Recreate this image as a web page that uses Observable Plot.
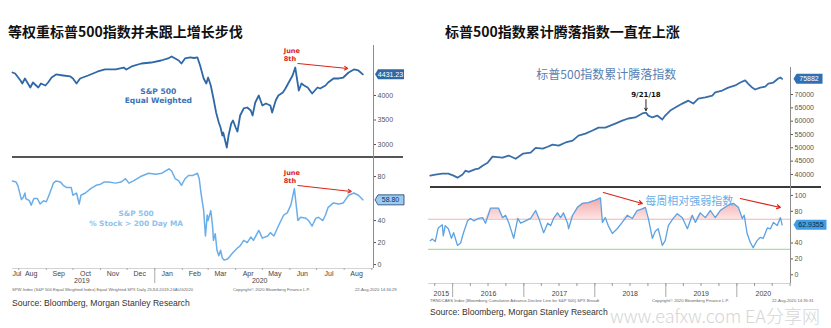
<!DOCTYPE html>
<html><head><meta charset="utf-8">
<script src="https://cdn.jsdelivr.net/npm/d3@7"></script>
<script src="https://cdn.jsdelivr.net/npm/@observablehq/plot@0.6"></script>
<style>
body{margin:0;background:#fff;}
#root{position:relative;width:831px;height:328px;overflow:hidden;background:#fff;font-family:"Liberation Sans",Arial,sans-serif;}
.title{position:absolute;top:24px;line-height:14px;font-family:"Noto Sans CJK SC",sans-serif;font-weight:700;font-size:14px;color:#111;white-space:nowrap;}
.sep{position:absolute;height:2px;background:#555;}
.src{position:absolute;font-size:8.6px;line-height:10px;color:#333;white-space:nowrap;}
.wm{position:absolute;font-size:18px;line-height:20px;color:#d6d6d6;white-space:nowrap;font-family:"Noto Sans CJK SC",sans-serif;font-weight:300;}
#root svg.fp{position:absolute;left:0;top:0;pointer-events:none;}
</style></head><body>
<svg width="0" height="0" style="position:absolute">
  <defs>
    <linearGradient id="pinkGrad" gradientUnits="userSpaceOnUse" x1="0" y1="192" x2="0" y2="219">
      <stop offset="0" stop-color="#f08a8d"/>
      <stop offset="1" stop-color="#fde2e2"/>
    </linearGradient>
  </defs>
</svg>
<div id="root">
  <div class="title" style="left:8px">等权重标普500指数并未跟上增长步伐</div>
  <div class="title" style="left:445px">标普500指数累计腾落指数一直在上涨</div>
  <div class="sep" style="left:12px;top:156px;width:391px"></div>
  <div class="sep" style="left:430px;top:186px;width:391px;background:#3a3a3a"></div>
  <div class="src" style="left:12px;top:298px">Source: Bloomberg, Morgan Stanley Research</div>
  <div class="src" style="left:430px;top:307px">Source: Bloomberg, Morgan Stanley Research</div>
  <svg class="fp" width="831" height="328" style="position:absolute;left:0;top:0">
    <g font-family="Liberation Sans, Arial, sans-serif" font-size="4.2" fill="#666">
      <text x="12" y="291">SPW Index (S&amp;P 500 Equal Weighted Index) Equal Weighted SPX  Daily 25JUL2019-24AUG2020</text>
      <text x="233" y="291">Copyright© 2020 Bloomberg Finance L.P.</text>
      <text x="355" y="291">22-Aug-2020 14:34:29</text>
      <text x="430" y="302">TRNDCAES Index (Bloomberg Cumulative Advance-Decline Line for S&amp;P 500) SPX Breadt</text>
      <text x="652" y="302">Copyright© 2020 Bloomberg Finance L.P.</text>
      <text x="772" y="302">22-Aug-2020 14:35:31</text>
    </g>
  </svg>
  <div class="wm" style="left:610px;top:305px">www.eafxw.com</div>
  <div class="wm" style="left:745px;top:305px">EA分享网</div>
</div>
<script>
// ---------------- DATA ----------------
// Left top: S&P 500 Equal Weighted index
const ewDates = ["2019-07-25","2019-07-28","2019-08-03","2019-08-05","2019-08-08","2019-08-14","2019-08-17","2019-08-23","2019-08-26","2019-08-31","2019-09-03","2019-09-07","2019-09-12","2019-09-20","2019-09-28","2019-10-01","2019-10-05","2019-10-09","2019-10-18","2019-10-29","2019-11-06","2019-11-18","2019-11-27","2019-11-30","2019-12-06","2019-12-17","2019-12-28","2020-01-08","2020-01-16","2020-01-20","2020-01-24","2020-01-28","2020-01-31","2020-02-04","2020-02-10","2020-02-14","2020-02-18","2020-02-21","2020-02-25","2020-02-28","2020-03-01","2020-03-04","2020-03-07","2020-03-10","2020-03-13","2020-03-15","2020-03-17","2020-03-18","2020-03-22","2020-03-24","2020-03-27","2020-03-29","2020-04-01","2020-04-03","2020-04-06","2020-04-10","2020-04-14","2020-04-18","2020-04-20","2020-04-23","2020-04-27","2020-05-01","2020-05-05","2020-05-10","2020-05-12","2020-05-16","2020-05-19","2020-05-24","2020-05-27","2020-05-30","2020-06-04","2020-06-07","2020-06-11","2020-06-14","2020-06-17","2020-06-21","2020-06-26","2020-07-02","2020-07-05","2020-07-11","2020-07-14","2020-07-20","2020-07-26","2020-07-31","2020-08-06","2020-08-12","2020-08-17","2020-08-22"];
const ewValues = [4469,4449,4306,4245,4347,4163,4265,4163,4245,4204,4265,4367,4429,4408,4388,4347,4245,4347,4408,4490,4531,4531,4571,4531,4592,4653,4673,4714,4755,4796,4755,4714,4653,4755,4776,4765,4776,4612,4347,4245,4367,4204,3939,3653,3449,3347,3184,3245,2939,3184,3429,3490,3347,3265,3592,3735,3755,3694,3592,3857,4000,3796,3837,3796,3653,3898,4000,4061,4143,4245,4408,4571,4102,4245,4204,4163,4041,4163,4143,4204,4265,4347,4347,4367,4469,4531,4510,4431.23];
const ewTicks = [3000,3500,4000];

// Left bottom: % of S&P 500 stocks above 200-day MA
const maDates = ["2019-07-25","2019-07-29","2019-07-31","2019-08-04","2019-08-06","2019-08-08","2019-08-09","2019-08-13","2019-08-15","2019-08-18","2019-08-22","2019-08-25","2019-08-29","2019-09-01","2019-09-03","2019-09-05","2019-09-09","2019-09-12","2019-09-17","2019-09-20","2019-09-24","2019-09-29","2019-10-01","2019-10-05","2019-10-08","2019-10-10","2019-10-15","2019-10-21","2019-10-27","2019-11-01","2019-11-05","2019-11-10","2019-11-18","2019-11-24","2019-11-29","2019-12-03","2019-12-08","2019-12-16","2019-12-25","2020-01-02","2020-01-09","2020-01-17","2020-01-20","2020-01-24","2020-01-28","2020-01-31","2020-02-04","2020-02-08","2020-02-13","2020-02-18","2020-02-20","2020-02-22","2020-02-25","2020-02-27","2020-02-29","2020-03-01","2020-03-04","2020-03-06","2020-03-07","2020-03-09","2020-03-11","2020-03-13","2020-03-15","2020-03-17","2020-03-19","2020-03-23","2020-03-26","2020-03-29","2020-04-03","2020-04-06","2020-04-10","2020-04-14","2020-04-18","2020-04-21","2020-04-27","2020-05-01","2020-05-07","2020-05-10","2020-05-14","2020-05-19","2020-05-25","2020-05-29","2020-06-02","2020-06-06","2020-06-10","2020-06-13","2020-06-19","2020-06-22","2020-06-26","2020-06-30","2020-07-03","2020-07-08","2020-07-11","2020-07-14","2020-07-20","2020-07-26","2020-07-31","2020-08-06","2020-08-12","2020-08-17","2020-08-22"];
const maValues = [76,75,72,59,61,65,60,58,54,60,60,55,58,57,61,65,74,76,75,72,70,70,63,65,55,63,65,69,72,73,75,75,74,75,78,74,76,80,83,82,83,87,85,78,76,72,78,81,81,83,78,65,49,26,45,40,49,35,22,28,13,8,13,6,4,5,8,11,15,17,22,20,25,22,31,24,26,29,26,35,45,47,54,69,40,43,42,40,35,42,43,40,45,52,56,55,56,63,65,63,58.8];
const maTicks = [0,20,40,80];
const monthLabelDates = ["2019-07-30","2019-08-15","2019-09-15","2019-10-15","2019-11-15","2019-12-15","2020-01-15","2020-02-15","2020-03-15","2020-04-15","2020-05-15","2020-06-15","2020-07-15","2020-08-15"];
const monthLabels = ["Jul","Aug","Sep","Oct","Nov","Dec","Jan","Feb","Mar","Apr","May","Jun","Jul","Aug"];
const leftYearDates = ["2019-10-11","2020-04-28"];
const leftYearLabels = ["2019","2020"];

// Right top: cumulative advance-decline line
const adDates = ["2015-09-08","2015-10-04","2015-11-09","2015-12-10","2016-01-06","2016-01-26","2016-02-21","2016-03-07","2016-03-23","2016-04-28","2016-05-14","2016-06-03","2016-06-29","2016-07-24","2016-09-14","2016-10-15","2016-11-20","2016-12-27","2017-02-05","2017-03-03","2017-04-08","2017-05-04","2017-05-29","2017-06-29","2017-08-04","2017-09-09","2017-10-09","2017-11-14","2017-12-20","2018-01-20","2018-02-24","2018-03-21","2018-04-16","2018-05-22","2018-06-22","2018-07-28","2018-09-02","2018-09-21","2018-10-03","2018-10-24","2018-11-18","2018-12-14","2018-12-29","2019-01-24","2019-02-19","2019-03-27","2019-04-27","2019-05-22","2019-06-17","2019-07-23","2019-08-28","2019-09-12","2019-10-18","2019-11-18","2019-12-24","2020-01-19","2020-02-13","2020-02-28","2020-03-20","2020-04-04","2020-04-30","2020-05-26","2020-06-11","2020-07-07","2020-08-01","2020-08-12","2020-08-21"];
const adValues = [39550,39900,40300,40300,39550,38800,40000,41400,41000,42000,42200,43300,44400,46700,46300,47100,45900,47800,48200,50000,49700,50400,51200,50800,52000,52700,54600,55300,56500,57600,57600,58300,59100,60200,61000,61400,62900,63200,62100,61400,62100,60600,62100,64000,65100,66600,67700,66600,68500,68900,69600,70800,71500,72600,73400,74500,75300,74100,72600,71900,72600,73000,74100,74500,76000,76400,75882];
const adTicks = [40000,45000,50000,55000,60000,65000,70000];

// Right bottom: weekly RSI of the A/D line
const rsiDates = ["2015-09-08","2015-09-18","2015-10-04","2015-10-19","2015-11-09","2015-11-14","2015-11-24","2015-12-10","2015-12-26","2016-01-06","2016-01-26","2016-02-11","2016-02-26","2016-03-18","2016-04-02","2016-04-18","2016-05-14","2016-06-03","2016-06-18","2016-07-14","2016-08-09","2016-08-24","2016-09-14","2016-09-29","2016-10-15","2016-11-10","2016-12-01","2016-12-16","2017-01-10","2017-02-05","2017-03-03","2017-03-18","2017-04-13","2017-05-04","2017-05-19","2017-06-03","2017-06-23","2017-07-09","2017-07-24","2017-08-14","2017-08-19","2017-09-09","2017-10-04","2017-10-30","2017-11-29","2018-01-04","2018-01-30","2018-02-09","2018-02-24","2018-03-11","2018-04-01","2018-04-26","2018-05-22","2018-06-17","2018-07-13","2018-08-07","2018-09-02","2018-09-18","2018-10-03","2018-10-24","2018-11-08","2018-11-23","2018-12-14","2018-12-29","2019-01-14","2019-02-08","2019-03-01","2019-03-27","2019-04-22","2019-05-17","2019-06-02","2019-06-27","2019-07-23","2019-08-18","2019-09-12","2019-10-08","2019-11-13","2019-12-14","2020-01-09","2020-01-29","2020-02-08","2020-02-23","2020-03-10","2020-03-25","2020-04-14","2020-04-30","2020-05-16","2020-06-06","2020-06-22","2020-07-07","2020-07-27","2020-08-12","2020-08-21"];
const rsiValues = [43,45,42,59,63,49,62,58,46,53,37,40,53,68,71,68,71,72,65,84,84,84,72,75,66,46,71,65,68,71,81,72,53,65,62,71,78,72,78,65,58,75,85,90,91,94,97,66,72,62,52,58,66,75,71,81,83,85,71,46,55,58,37,43,62,71,77,72,58,75,66,78,72,81,72,81,87,90,85,71,75,52,41,34,43,47,46,59,58,66,62,72,62.9355];
const rsiTicks = [0,20,40,80,100];
const rsiBands = [70, 32];
const rightYearLabelDates = ["2015-11-04","2016-07-04","2017-07-03","2018-07-02","2019-07-02","2020-05-16"];
const rightYearLabels = ["2015","2016","2017","2018","2019","2020"];

// Annotations (data coordinates)
const ewNote = [{date:"2020-01-05", v:3990, text:"S&P 500\nEqual Weighted"}];
const ewJune = [{date:"2020-05-25", v:4837, text:"June\n8th"}];
const ewArrow = [{d1:"2020-06-10", v1:4653, d2:"2020-08-05", v2:4551}];
const maNote = [{date:"2019-12-11", v:42.7, text:"S&P 500\n% Stock > 200 Day MA"}];
const maJune = [{date:"2020-05-25", v:80, text:"June\n8th"}];
const maArrow = [{d1:"2020-06-10", v1:71.8, d2:"2020-08-09", v2:66.4}];
const adNote = [{date:"2018-03-01", v:77140, text:"标普500指数累计腾落指数"}];
const adMark = [{date:"2018-09-21", v:70000, v1:68100, v2:64000, text:"9/21/18"}];
const rsiNote = [{date:"2019-05-02", v:92.4, text:"每周相对强弱指数"}];
const rsiArrows = [{d1:"2018-02-14", v1:103.7, d2:"2018-09-02", v2:89.8},{d1:"2020-01-19", v1:96.1, d2:"2020-08-12", v2:84.8}];

// ---------------- BUILD ----------------
const D = s => new Date(s + "T00:00:00Z");
const toRows = (ds, vs) => ds.map((d, i) => ({date: D(d), v: vs[i]}));
const ew = toRows(ewDates, ewValues);
const ma = toRows(maDates, maValues);
const ad = toRows(adDates, adValues);
const rsi = toRows(rsiDates, rsiValues);
const fixD = arr => arr.map(o => { const r = {...o}; for (const k of ["date","d1","d2"]) if (r[k]) r[k] = D(r[k]); return r; });

const leftX = [D("2019-07-25"), D("2020-09-03")];
const rightX = [D("2015-08-30"), D("2020-10-03")];

function tag(w, h) {
  return {draw(ctx) {
    const x0 = -w / 2, x1 = w / 2, y0 = -h / 2, y1 = h / 2, p = 3;
    ctx.moveTo(x0, 0); ctx.lineTo(x0 + p, y0); ctx.lineTo(x1, y0); ctx.lineTo(x1, y1); ctx.lineTo(x0 + p, y1); ctx.closePath();
  }};
}
function valueTag(rows, fmt, dx, w, fill, stroke, textFill) {
  const last = [rows[rows.length - 1]];
  return [
    Plot.dot(last, {y: "v", frameAnchor: "right", dx, symbol: tag(w, 10), r: 5, fill, stroke, strokeWidth: stroke === "none" ? 0 : 0.8}),
    Plot.text(last, {y: "v", frameAnchor: "right", textAnchor: "middle", dx: dx + 1, text: d => fmt(d.v), fill: textFill, fontSize: 7, fontFamily: "Liberation Sans, Arial, sans-serif"})
  ];
}

const root = document.getElementById("root");
const baseStyle = {position: "absolute", left: "0px", top: "0px", background: "transparent", overflow: "visible", fontFamily: "'Liberation Sans', Arial, sans-serif", fontSize: "7px"};
function P(opts) {
  const svg = Plot.plot({width: 831, height: 328, ...opts, style: baseStyle});
  root.appendChild(svg);
}
const ann = {fontFamily: "DejaVu Sans, sans-serif", fontWeight: "bold"};

// Left top
P({
  marginLeft: 12, marginRight: 458, marginTop: 45, marginBottom: 171,
  x: {type: "utc", domain: leftX, axis: null},
  y: {domain: [2735, 5020]},
  marks: [
    Plot.ruleX([leftX[1]], {stroke: "#8c8c8c", strokeWidth: 1}),
    Plot.axisY({anchor: "right", ticks: ewTicks, tickFormat: d => String(d), tickSize: 2, tickPadding: 2, color: "#555"}),
    Plot.line(ew, {x: "date", y: "v", stroke: "#2f68a6", strokeWidth: 1.8}),
    Plot.text(fixD(ewNote), {x: "date", y: "v", text: "text", fill: "#3d72b4", fontSize: 7.6, lineHeight: 1.2, ...ann}),
    Plot.text(fixD(ewJune), {x: "date", y: "v", text: "text", fill: "#d9261c", fontSize: 6.6, lineHeight: 1.2, textAnchor: "start", ...ann}),
    Plot.arrow(fixD(ewArrow), {x1: "d1", y1: "v1", x2: "d2", y2: "v2", stroke: "#d9261c", strokeWidth: 1.1, headLength: 5}),
    ...valueTag(ew, v => v.toFixed(2), 16, 29, "#2f68a6", "none", "#fff")
  ]
});

// Left bottom
P({
  marginLeft: 12, marginRight: 458, marginTop: 157, marginBottom: 60,
  x: {type: "utc", domain: leftX},
  y: {domain: [-3.6, 97.3]},
  marks: [
    Plot.ruleX([leftX[1]], {stroke: "#8c8c8c", strokeWidth: 1}),
    Plot.ruleY([-3.6], {stroke: "#c8c8c8", strokeWidth: 0.8}),
    Plot.axisY({anchor: "right", ticks: maTicks, tickFormat: d => String(d), tickSize: 2, tickPadding: 2, color: "#555"}),
    Plot.axisX({ticks: d3.utcMonths(leftX[0], leftX[1]), tickSize: 2, tickFormat: () => "", color: "#aaa"}),
    Plot.axisX({ticks: [D("2020-01-01")], tickSize: 15, tickFormat: () => "", color: "#aaa"}),
    Plot.text(monthLabelDates.map((d, i) => ({date: D(d), label: monthLabels[i]})), {x: "date", text: "label", frameAnchor: "bottom", dy: 7, fill: "#444", fontSize: 7}),
    Plot.text(leftYearDates.map((d, i) => ({date: D(d), label: leftYearLabels[i]})), {x: "date", text: "label", frameAnchor: "bottom", dy: 14, fill: "#444", fontSize: 7}),
    Plot.line(ma, {x: "date", y: "v", stroke: "#6aaee9", strokeWidth: 1.5}),
    Plot.text(fixD(maNote), {x: "date", y: "v", text: "text", fill: "#8ec3ef", fontSize: 7.4, lineHeight: 1.35, ...ann}),
    Plot.text(fixD(maJune), {x: "date", y: "v", text: "text", fill: "#d9261c", fontSize: 6.6, lineHeight: 1.2, textAnchor: "start", ...ann}),
    Plot.arrow(fixD(maArrow), {x1: "d1", y1: "v1", x2: "d2", y2: "v2", stroke: "#d9261c", strokeWidth: 1.1, headLength: 5}),
    ...valueTag(ma, v => v.toFixed(2), 16, 29, "#9ccbf2", "#1b3d6b", "#10315a")
  ]
});

// Right top
P({
  marginLeft: 428, marginRight: 41, marginTop: 67, marginBottom: 141,
  x: {type: "utc", domain: rightX, axis: null},
  y: {domain: [35100, 80150]},
  marks: [
    Plot.ruleX([rightX[1]], {stroke: "#8c8c8c", strokeWidth: 1}),
    Plot.axisY({anchor: "right", ticks: adTicks, tickFormat: d => String(d), tickSize: 2, tickPadding: 2, color: "#555"}),
    Plot.line(ad, {x: "date", y: "v", stroke: "#3a6ea8", strokeWidth: 1.8}),
    Plot.text(fixD(adNote), {x: "date", y: "v", text: "text", fill: "#5a7fb2", fontSize: 12, fontFamily: "Noto Sans CJK SC, sans-serif"}),
    Plot.text(fixD(adMark), {x: "date", y: "v", text: "text", fill: "#111", fontSize: 7, ...ann}),
    Plot.arrow(fixD(adMark), {x1: "date", y1: "v1", x2: "date", y2: "v2", stroke: "#222", strokeWidth: 1, headLength: 4}),
    ...valueTag(ad, v => String(Math.round(v)), 17.5, 29, "#2f6fb4", "none", "#fff")
  ]
});

// Right bottom
P({
  marginLeft: 428, marginRight: 41, marginTop: 187, marginBottom: 45,
  x: {type: "utc", domain: rightX},
  y: {domain: [-11, 110]},
  marks: [
    Plot.areaY(rsi, {x: "date", y1: () => rsiBands[0], y2: d => Math.max(d.v, rsiBands[0]), fill: "url(#pinkGrad)", fillOpacity: 0.9}),
    Plot.ruleY([rsiBands[0]], {stroke: "#f2b3b3", strokeWidth: 1.2}),
    Plot.ruleY([rsiBands[1]], {stroke: "#a6df9f", strokeWidth: 1.2}),
    Plot.ruleX([rightX[1]], {stroke: "#8c8c8c", strokeWidth: 1}),
    Plot.ruleY([-11], {stroke: "#c8c8c8", strokeWidth: 0.8}),
    Plot.axisY({anchor: "right", ticks: rsiTicks, tickFormat: d => String(d), tickSize: 2, tickPadding: 2, color: "#555"}),
    Plot.axisX({ticks: d3.utcMonths(rightX[0], rightX[1]).filter(d => d.getUTCMonth() % 3 === 0), tickSize: 3, tickFormat: () => "", color: "#999"}),
    Plot.axisX({ticks: d3.utcYears(rightX[0], rightX[1]), tickSize: 14, tickFormat: () => "", color: "#aaa"}),
    Plot.text(rightYearLabelDates.map((d, i) => ({date: D(d), label: rightYearLabels[i]})), {x: "date", text: "label", frameAnchor: "bottom", dy: 12, fill: "#444", fontSize: 7}),
    Plot.line(rsi, {x: "date", y: "v", stroke: "#5aa2e2", strokeWidth: 1.3}),
    Plot.text(fixD(rsiNote), {x: "date", y: "v", text: "text", fill: "#6aaee8", fontSize: 11, fontFamily: "Noto Sans CJK SC, sans-serif"}),
    Plot.arrow(fixD(rsiArrows), {x1: "d1", y1: "v1", x2: "d2", y2: "v2", stroke: "#d9261c", strokeWidth: 1.2, headLength: 5}),
    ...valueTag(rsi, v => v.toFixed(4), 19.5, 33, "#3d9de8", "none", "#0c2a4a")
  ]
});
</script>
</body></html>
